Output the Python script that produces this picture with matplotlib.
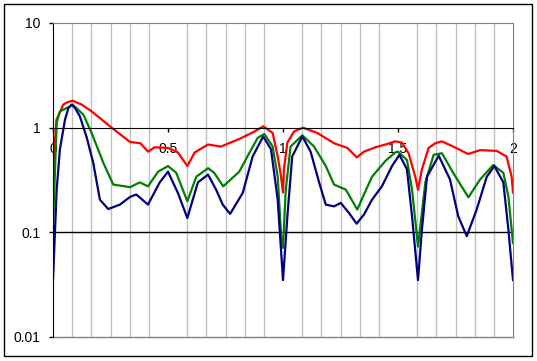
import matplotlib
matplotlib.use("Agg")
import matplotlib.pyplot as plt
from matplotlib.patches import Rectangle
from matplotlib.ticker import FixedLocator, FixedFormatter, NullLocator
import numpy as np

plt.rcParams['font.family'] = ['Liberation Sans', 'DejaVu Sans']

# values
red_x = [0.0, 0.015, 0.045, 0.06, 0.085, 0.125, 0.168, 0.255, 0.335, 0.38, 0.413, 0.442, 0.50,
         0.543, 0.584, 0.616, 0.674, 0.730, 0.810, 0.868, 0.914, 0.955, 0.977, 0.99,
         1.0, 1.004, 1.019, 1.048, 1.087, 1.149, 1.222, 1.280, 1.321, 1.352, 1.402,
         1.445, 1.488, 1.517, 1.546, 1.575, 1.587, 1.604, 1.633, 1.662, 1.691, 1.740,
         1.805, 1.857, 1.929, 1.972, 1.994, 2.0]
red_y = [0.40, 1.19, 1.66, 1.74, 1.81, 1.66, 1.43, 1.0, 0.73, 0.71, 0.59, 0.65, 0.64,
         0.58, 0.43, 0.58, 0.69, 0.66, 0.78, 0.90, 1.03, 0.89, 0.53, 0.36,
         0.24, 0.40, 0.72, 0.92, 1.0, 0.89, 0.71, 0.64, 0.52, 0.59, 0.65,
         0.69, 0.74, 0.72, 0.57, 0.34, 0.256, 0.40, 0.64, 0.71, 0.74, 0.66,
         0.56, 0.61, 0.60, 0.53, 0.34, 0.24]

green_x = [0.0, 0.016, 0.030, 0.06, 0.086, 0.117, 0.132, 0.168, 0.219, 0.262, 0.335, 0.377, 0.413,
           0.457, 0.500, 0.536, 0.584, 0.623, 0.674, 0.701, 0.740, 0.810, 0.853, 0.890,
           0.919, 0.955, 0.977, 0.992, 1.0, 1.012, 1.033, 1.084, 1.135, 1.186, 1.222,
           1.273, 1.323, 1.352, 1.387, 1.445, 1.488, 1.5, 1.539, 1.561, 1.587, 1.619,
           1.655, 1.691, 1.740, 1.806, 1.857, 1.914, 1.958, 1.980, 2.0]
green_y = [0.114, 1.12, 1.43, 1.54, 1.66, 1.43, 1.33, 0.89, 0.46, 0.286, 0.27, 0.30, 0.275,
           0.38, 0.43, 0.37, 0.198, 0.34, 0.41, 0.37, 0.275, 0.38, 0.57, 0.80,
           0.87, 0.66, 0.34, 0.092, 0.071, 0.256, 0.66, 0.845, 0.66, 0.43, 0.286,
           0.256, 0.165, 0.23, 0.34, 0.48, 0.58, 0.59, 0.49, 0.256, 0.073, 0.30,
           0.55, 0.57, 0.37, 0.216, 0.32, 0.44, 0.37, 0.22, 0.079]

blue_x = [0.0, 0.016, 0.030, 0.052, 0.067, 0.081, 0.096, 0.117, 0.147, 0.175, 0.204, 0.240, 0.291,
          0.335, 0.362, 0.413, 0.464, 0.500, 0.543, 0.584, 0.630, 0.674, 0.709, 0.738,
          0.770, 0.825, 0.868, 0.914, 0.948, 0.977, 1.0, 1.019, 1.040, 1.084, 1.120,
          1.157, 1.186, 1.222, 1.251, 1.287, 1.320, 1.352, 1.387, 1.430, 1.474, 1.506,
          1.539, 1.561, 1.587, 1.604, 1.626, 1.677, 1.726, 1.762, 1.799, 1.842, 1.886,
          1.919, 1.958, 1.980, 2.0]
blue_y = [0.035, 0.256, 0.62, 1.19, 1.54, 1.66, 1.54, 1.28, 0.80, 0.46, 0.205, 0.167, 0.184,
          0.218, 0.23, 0.184, 0.30, 0.38, 0.238, 0.137, 0.30, 0.356, 0.256, 0.184,
          0.15, 0.238, 0.53, 0.826, 0.62, 0.205, 0.035, 0.142, 0.53, 0.826, 0.59,
          0.30, 0.184, 0.177, 0.191, 0.153, 0.121, 0.148, 0.205, 0.275, 0.43, 0.55,
          0.40, 0.142, 0.035, 0.106, 0.34, 0.54, 0.32, 0.142, 0.092, 0.165, 0.34,
          0.43, 0.30, 0.106, 0.035]

x_ticks = [0, 0.5, 1, 1.5, 2]
x_labels = ['0', '0.5', '1', '1.5', '2']
y_ticks = [0.01, 0.1, 1, 10]
y_labels = ['0.01', '0.1', '1', '10']

W, H = 537, 361
fig = plt.figure(figsize=(W / 100, H / 100), dpi=100)
fig.patches.append(Rectangle((4 / W, 5 / H), 528 / W, 352 / H, transform=fig.transFigure,
                             fill=False, edgecolor='black', linewidth=1))
ax = fig.add_axes([53 / W, 24 / H, 460 / W, 314 / H])

ax.set_yscale('log')
ax.set_xlim(0, 2)
ax.set_ylim(0.01, 10)

ax.plot(red_x, red_y, color='#FF0000', lw=1.6)
ax.plot(green_x, green_y, color='#008000', lw=1.6)
ax.plot(blue_x, blue_y, color='#000080', lw=1.6)

# axes, grid
ax.spines['bottom'].set_position(('data', 1))
ax.spines['bottom'].set_color('black')
ax.spines['left'].set_color('black')
for s in ['top', 'right']:
    ax.spines[s].set_color('#808080')
ax.axhline(0.01, color='#808080', lw=1, clip_on=False)
ax.axhline(0.1, color='black', lw=1, zorder=1)

ax.xaxis.set_major_locator(FixedLocator(x_ticks))
ax.xaxis.set_major_formatter(FixedFormatter(x_labels))
ax.xaxis.set_minor_locator(FixedLocator(np.arange(25) / 12))
ax.yaxis.set_major_locator(FixedLocator(y_ticks))
ax.yaxis.set_major_formatter(FixedFormatter(y_labels))
ax.yaxis.set_minor_locator(NullLocator())
ax.grid(which='minor', axis='x', color='#C0C0C0', lw=1, zorder=0)
ax.set_axisbelow(True)

ax.tick_params(axis='x', which='major', direction='out', length=3, width=1, pad=7, labelsize=10)
ax.tick_params(axis='x', which='minor', length=0)
ax.tick_params(axis='y', direction='out', length=3, width=1, pad=6, labelsize=10)

fig.savefig('out.png', dpi=100)
